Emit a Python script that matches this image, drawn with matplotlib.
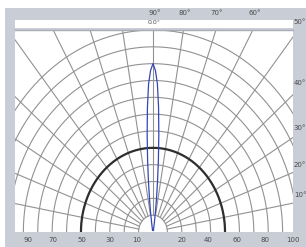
import numpy as np
import matplotlib.pyplot as plt
from matplotlib.patches import Rectangle

# relative intensity (%), vs angle from axis (deg)
beam_angles = [-20, -15, -12, -10, -8, -7, -6, -5, -4, -3, -2, -1, 0,
               1, 2, 3, 4, 5, 6, 7, 8, 10, 12, 15, 20]
beam_intensity = [1, 1.2, 2.5, 5, 13, 20, 30, 43, 58, 74, 88, 96, 100,
                  96, 88, 74, 58, 43, 30, 20, 13, 5, 2.5, 1.2, 1]

ring_values = [10, 20, 30, 40, 50, 60, 70, 80, 90, 100, 110, 120]
half_ring = 50
spoke_angles = list(range(-80, 90, 10))

top_labels = ['90°', '80°', '70°', '60°']
side_labels = ['50°', '40°', '30°', '20°', '10°']
left_values = ['90', '70', '50', '30', '10']
right_values = ['20', '40', '60', '80', '100']

W, H = 306, 247


def fx(px):
    return px / W


def fy(py):
    return 1 - py / H


fig = plt.figure(figsize=(W / 100, H / 100), dpi=100, facecolor='white')

# grey panel + white title strip
fig.patches.append(Rectangle((fx(5), 0), 1 - fx(5), fy(8), transform=fig.transFigure,
                             facecolor='#c9cdd5', edgecolor='none', zorder=-2))
fig.patches.append(Rectangle((fx(15), fy(28)), fx(293) - fx(15), fy(20) - fy(28),
                             transform=fig.transFigure, facecolor='white',
                             edgecolor='none', zorder=-1))

ax = fig.add_axes([fx(15), fy(232), fx(293) - fx(15), fy(30) - fy(232)])
ax.set_zorder(5)
ax.set_facecolor('white')
ax.set_xlim(-9.58, 9.72)
ax.set_ylim(0, 12.0)
for s in ax.spines.values():
    s.set_visible(False)
ax.spines['top'].set_visible(True)
ax.spines['top'].set_color('#a8acb4')
ax.spines['top'].set_linewidth(1.0)
ax.set_xticks([])
ax.set_yticks([])

grid_c = '#929292'
th = np.radians(np.linspace(-90, 90, 361))
for v in ring_values:
    r = v / 10
    ax.plot(r * np.sin(th), r * np.cos(th), color=grid_c, lw=0.8, zorder=2)
for a in spoke_angles:
    t = np.radians(a)
    ax.plot([np.sin(t), 20 * np.sin(t)], [np.cos(t), 20 * np.cos(t)],
            color=grid_c, lw=0.8, zorder=2)

r = half_ring / 10
ax.plot(r * np.sin(th), r * np.cos(th), color='#2e2e2e', lw=1.6, zorder=3)

ba = np.radians(beam_angles)
br = np.array(beam_intensity) / 10
ax.plot(br * np.sin(ba), br * np.cos(ba), color='#3347b5', lw=0.9, zorder=4)

# angle labels
lab_c = '#4a4a4a'
for txt, px in zip(top_labels, [155, 185, 217, 255]):
    fig.text(fx(px), fy(13), txt, fontsize=5, color=lab_c, ha='center', va='center')
for txt, py in zip(side_labels, [22, 83, 128, 165, 195]):
    fig.text(fx(300), fy(py), txt, fontsize=5, color=lab_c, ha='center', va='center')
fig.text(fx(154), fy(23), '0.0°', fontsize=4.5, color=lab_c, ha='center', va='center')

# intensity labels below the baseline
for txt, px in zip(left_values, [28, 53, 82, 110, 137]):
    fig.text(fx(px), fy(240), txt, fontsize=5, color=lab_c, ha='center', va='center')
for txt, px in zip(right_values, [182, 208, 237, 265, 293]):
    fig.text(fx(px), fy(240), txt, fontsize=5, color=lab_c, ha='center', va='center')

plt.savefig('out.png', dpi=100, facecolor='white')
